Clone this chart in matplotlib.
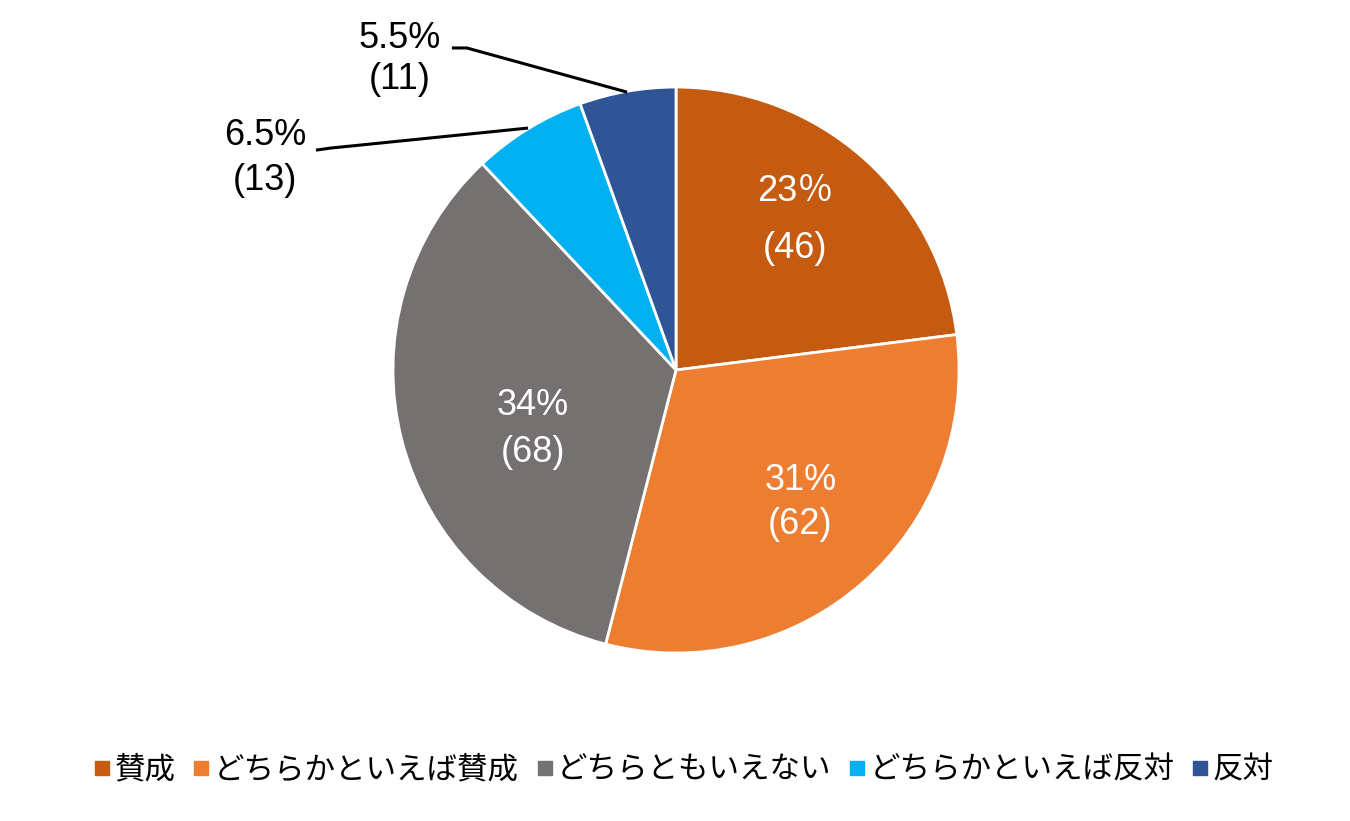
import matplotlib.pyplot as plt
from matplotlib.lines import Line2D

plt.rcParams['font.family'] = ['Liberation Sans', 'Noto Sans CJK JP', 'DejaVu Sans']

categories = ["賛成", "どちらかといえば賛成", "どちらともいえない", "どちらかといえば反対", "反対"]
counts = [46, 62, 68, 13, 11]
pct_labels = ["23％", "31%", "34%", "6.5%", "5.5%"]
colors = ["#C55A11", "#ED7D31", "#767171", "#00B0F0", "#2F5597"]

fig = plt.figure(figsize=(13.5, 8.21), dpi=100)
ax = fig.add_axes([0.2911, 0.2046, 0.4193, 0.6894])

wedges, _ = ax.pie(counts, colors=colors, startangle=90, counterclock=False,
                   wedgeprops=dict(edgecolor="white", linewidth=2))
ax.set_xlim(-1, 1)
ax.set_ylim(-1, 1)
ax.set_aspect("auto")
ax.axis("off")

fs = 26
# inside labels (white)
inside = [(0, 0.42, 0.63, 0.43), (1, 0.44, -0.39, -0.545), (2, -0.505, -0.125, -0.29)]
for i, x, y1, y2 in inside:
    ax.text(x, y1, pct_labels[i], color="white", fontsize=fs, ha="center", va="center")
    ax.text(x, y2, f"({counts[i]})", color="white", fontsize=fs, ha="center", va="center")

# outside labels with leader lines
outside = [(3, -1.452, 0.83, 0.67, [(-1.272, -1.223, -0.523), (0.777, 0.784, 0.855)]),
           (4, -0.975, 1.173, 1.025, [(-0.792, -0.739, -0.173), (1.138, 1.138, 0.982)])]
for i, x, y1, y2, (lx, ly) in outside:
    ax.text(x, y1, pct_labels[i], color="black", fontsize=fs, ha="center", va="center")
    ax.text(x, y2, f"({counts[i]})", color="black", fontsize=fs, ha="center", va="center")
    ax.plot(lx, ly, color="black", lw=2.2, clip_on=False, solid_capstyle="butt")

handles = [Line2D([], [], marker="s", linestyle="none", markersize=10,
                  markerfacecolor=c, markeredgecolor=c) for c in colors]
fig.legend(handles, categories, loc="center", bbox_to_anchor=(0.505, 0.062), ncol=5,
           frameon=False, handletextpad=0.0, columnspacing=0.45,
           handlelength=0.8, prop={'family': ['Noto Sans CJK JP'], 'size': 22})

fig.savefig("out.png", dpi=100, facecolor="white")
